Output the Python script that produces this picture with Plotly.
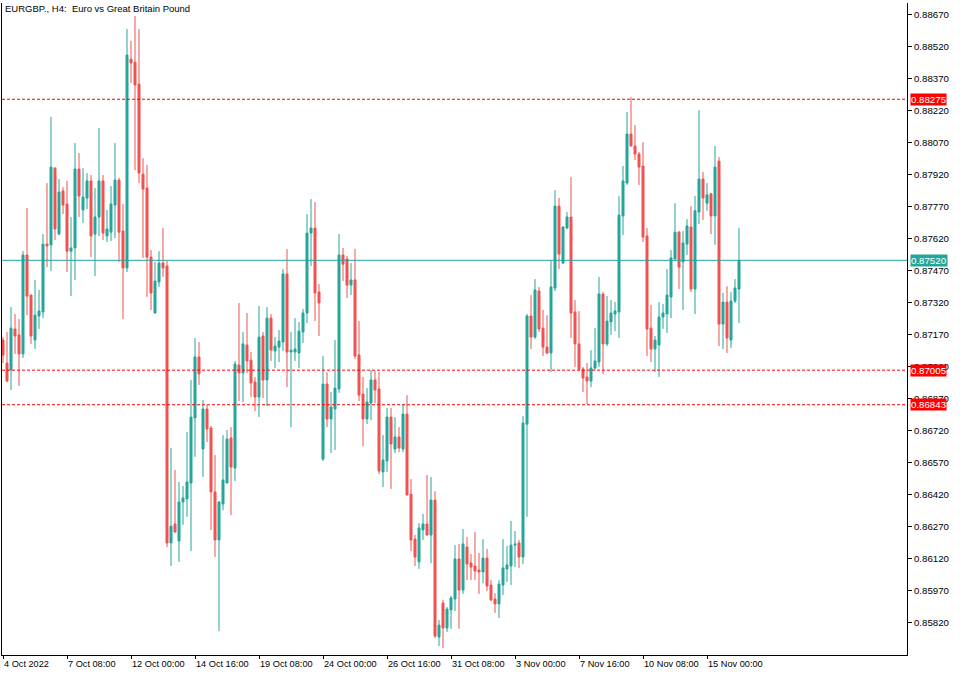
import plotly.graph_objects as go

opens = [0.87146,0.87038,0.87006,0.87198,0.87170,0.87081,0.87545,0.87357,0.87146,0.87259,
0.87278,0.87596,0.87592,0.87952,0.87643,0.87845,0.87784,0.87563,0.87578,0.87948,
0.87756,0.87812,0.87892,0.87643,0.87723,0.87892,0.87634,0.87652,0.87779,0.87896,
0.87657,0.87484,0.88463,0.88449,0.88346,0.87924,0.87859,0.87535,0.87273,0.87418,
0.87507,0.87493,0.86195,0.86284,0.86204,0.86387,0.86401,0.86476,0.86781,0.87067,
0.86635,0.86823,0.86734,0.86434,0.86209,0.86378,0.86476,0.86687,0.86546,0.87029,
0.86992,0.87123,0.87052,0.86949,0.86879,0.87165,0.86959,0.87249,0.87095,0.87113,
0.87137,0.87456,0.87090,0.87090,0.87085,0.87184,0.87273,0.87648,0.87671,0.87371,
0.86588,0.86940,0.86776,0.86823,0.86917,0.87545,0.87526,0.87404,0.87428,0.87076,
0.86893,0.86776,0.86851,0.86959,0.86917,0.86528,0.86579,0.86785,0.86635,0.86692,
0.86635,0.86799,0.86424,0.86213,0.86106,0.86256,0.86284,0.86232,0.86396,0.85754,
0.85913,0.85796,0.85881,0.85932,0.86120,0.85974,0.86176,0.86101,0.86087,0.86068,
0.86059,0.86124,0.85998,0.85932,0.85909,0.85998,0.86073,0.86087,0.86185,0.86195,
0.86129,0.86752,0.87259,0.87160,0.87376,0.87202,0.87113,0.87085,0.87390,0.87774,
0.87507,0.87671,0.87723,0.87278,0.87128,0.87010,0.86973,0.86954,0.87015,0.87043,
0.87362,0.87128,0.87231,0.87268,0.87278,0.87728,0.87882,0.88112,0.88056,0.88018,
0.87962,0.87634,0.87202,0.87104,0.87123,0.87254,0.87268,0.87348,0.87526,0.87652,
0.87512,0.87596,0.87676,0.87385,0.87746,0.87901,0.87788,0.87832,0.87728,0.87985,
0.87221,0.87324,0.87146,0.87329,0.87385]

highs = [0.87160,0.87184,0.87301,0.87268,0.87245,0.87563,0.87765,0.87360,0.87428,0.87381,
0.87643,0.87882,0.88192,0.87957,0.87901,0.87863,0.87892,0.87723,0.88070,0.88023,
0.87952,0.87929,0.87920,0.87859,0.88140,0.87920,0.87756,0.87868,0.88070,0.87906,
0.87784,0.88604,0.88548,0.88665,0.88604,0.87999,0.87967,0.87568,0.87512,0.87563,
0.87671,0.87517,0.86640,0.86537,0.86481,0.86462,0.86715,0.86959,0.87156,0.87137,
0.86865,0.86842,0.86743,0.86607,0.86390,0.86701,0.86724,0.86738,0.87048,0.87320,
0.87184,0.87273,0.87090,0.86973,0.87306,0.87184,0.87301,0.87268,0.87160,0.87193,
0.87479,0.87573,0.87184,0.87249,0.87231,0.87292,0.87737,0.87807,0.87793,0.87409,
0.87071,0.86996,0.86902,0.87146,0.87643,0.87578,0.87540,0.87507,0.87573,0.87235,
0.86973,0.86921,0.87006,0.87001,0.86996,0.86701,0.86828,0.86828,0.86785,0.86738,
0.86846,0.86888,0.86495,0.86232,0.86288,0.86331,0.86513,0.86504,0.86438,0.85834,
0.85928,0.85895,0.85946,0.86185,0.86190,0.86260,0.86223,0.86143,0.86246,0.86148,
0.86213,0.86167,0.86021,0.85960,0.86021,0.86213,0.86181,0.86298,0.86251,0.86209,
0.86790,0.87268,0.87357,0.87432,0.87395,0.87287,0.87263,0.87521,0.87849,0.87812,
0.87680,0.87746,0.87910,0.87334,0.87282,0.87020,0.87038,0.87099,0.87202,0.87442,
0.87371,0.87352,0.87334,0.87324,0.87821,0.87962,0.88215,0.88285,0.88154,0.88028,
0.88074,0.87671,0.87310,0.87165,0.87324,0.87315,0.87479,0.87568,0.87788,0.87657,
0.87657,0.87713,0.87774,0.87821,0.88224,0.87934,0.87882,0.87836,0.88056,0.88004,
0.87367,0.87399,0.87371,0.87432,0.87671]

lows = [0.87038,0.86949,0.86912,0.87081,0.86931,0.87062,0.87263,0.87128,0.87104,0.87198,
0.87249,0.87488,0.87470,0.87615,0.87638,0.87737,0.87465,0.87352,0.87428,0.87723,
0.87695,0.87760,0.87535,0.87446,0.87634,0.87615,0.87606,0.87610,0.87624,0.87512,
0.87245,0.87465,0.88351,0.87943,0.87882,0.87531,0.87348,0.87287,0.87270,0.87395,
0.87442,0.86176,0.86087,0.86244,0.86106,0.86279,0.86317,0.86157,0.86598,0.86935,
0.86504,0.86668,0.86256,0.86129,0.85782,0.86349,0.86474,0.86326,0.86485,0.86860,
0.86856,0.86992,0.86879,0.86813,0.86785,0.86874,0.86837,0.87048,0.87015,0.87043,
0.87095,0.86926,0.86738,0.87048,0.87015,0.87132,0.87226,0.87493,0.87235,0.87165,
0.86579,0.86738,0.86617,0.86631,0.86898,0.87423,0.87343,0.87357,0.87057,0.86860,
0.86649,0.86752,0.86771,0.86851,0.86518,0.86457,0.86528,0.86448,0.86617,0.86621,
0.86621,0.86418,0.86157,0.86087,0.86073,0.86209,0.86230,0.86101,0.85749,0.85712,
0.85702,0.85778,0.85792,0.85876,0.85792,0.85956,0.86021,0.86021,0.86021,0.85956,
0.86007,0.85970,0.85923,0.85867,0.85843,0.85951,0.86012,0.85998,0.86082,0.86078,
0.86096,0.86317,0.87104,0.87151,0.87184,0.87071,0.87081,0.86996,0.87376,0.87479,
0.87502,0.87667,0.87156,0.87020,0.87006,0.86902,0.86846,0.86926,0.87006,0.87020,
0.86987,0.87118,0.87170,0.87188,0.87156,0.87638,0.87873,0.88054,0.87990,0.87873,
0.87606,0.87071,0.87043,0.86996,0.86973,0.87198,0.87179,0.87249,0.87524,0.87385,
0.87287,0.87545,0.87371,0.87268,0.87690,0.87709,0.87752,0.87643,0.87592,0.87118,
0.87104,0.87085,0.87109,0.87320,0.87226]

closes = [0.87076,0.86954,0.87202,0.87165,0.87081,0.87545,0.87352,0.87165,0.87263,0.87282,
0.87596,0.87587,0.87957,0.87667,0.87840,0.87779,0.87563,0.87578,0.87948,0.87821,
0.87817,0.87892,0.87634,0.87723,0.87892,0.87648,0.87667,0.87784,0.87896,0.87652,
0.87484,0.88482,0.88445,0.88342,0.87929,0.87854,0.87535,0.87367,0.87423,0.87507,
0.87484,0.86195,0.86274,0.86246,0.86387,0.86406,0.86481,0.86785,0.87067,0.86987,
0.86823,0.86729,0.86434,0.86209,0.86387,0.86490,0.86682,0.86551,0.87034,0.86992,
0.87128,0.87048,0.86945,0.86879,0.87160,0.86959,0.87249,0.87099,0.87118,0.87142,
0.87456,0.87090,0.87099,0.87104,0.87188,0.87273,0.87648,0.87671,0.87367,0.87320,
0.86940,0.86776,0.86832,0.86921,0.87545,0.87502,0.87404,0.87428,0.87071,0.86888,
0.86776,0.86856,0.86959,0.86912,0.86532,0.86584,0.86785,0.86659,0.86692,0.86640,
0.86799,0.86420,0.86209,0.86129,0.86265,0.86284,0.86232,0.86396,0.85759,0.85810,
0.85796,0.85885,0.85937,0.86120,0.85974,0.86190,0.86096,0.86082,0.86063,0.86059,
0.86124,0.85993,0.85928,0.85909,0.86002,0.86078,0.86092,0.86185,0.86190,0.86129,
0.86757,0.87259,0.87160,0.87381,0.87198,0.87113,0.87085,0.87395,0.87774,0.87549,
0.87676,0.87723,0.87273,0.87128,0.87010,0.86968,0.86954,0.87015,0.87048,0.87362,
0.87128,0.87235,0.87273,0.87282,0.87732,0.87892,0.88112,0.88056,0.88018,0.87957,
0.87629,0.87198,0.87104,0.87146,0.87254,0.87273,0.87357,0.87531,0.87652,0.87488,
0.87601,0.87681,0.87385,0.87752,0.87901,0.87812,0.87827,0.87728,0.87957,0.87221,
0.87324,0.87156,0.87329,0.87390,0.87520]

bars = list(range(len(opens)))

date_tick_bars = [0, 16, 32, 48, 64, 80, 96, 112, 128, 144, 160, 176]
date_tick_labels = ["4 Oct 2022", "7 Oct 08:00", "12 Oct 00:00", "14 Oct 16:00",
                    "19 Oct 08:00", "24 Oct 00:00", "26 Oct 16:00", "31 Oct 08:00",
                    "3 Nov 00:00", "7 Nov 16:00", "10 Nov 08:00", "15 Nov 00:00"]

price_ticks = [0.85820, 0.85970, 0.86120, 0.86270, 0.86420, 0.86570, 0.86720, 0.86870,
               0.87020, 0.87170, 0.87320, 0.87470, 0.87620, 0.87770, 0.87920, 0.88070,
               0.88220, 0.88370, 0.88520, 0.88670]

level_lines = [0.88275, 0.87005, 0.86843]
bid_price = 0.87520

UP = "#26A69A"
DOWN = "#EF5350"
FONT = "Liberation Sans"

fig = go.Figure()
fig.add_trace(go.Candlestick(
    x=bars, open=opens, high=highs, low=lows, close=closes,
    increasing=dict(line=dict(color=UP, width=1), fillcolor=UP),
    decreasing=dict(line=dict(color=DOWN, width=1), fillcolor=DOWN),
    whiskerwidth=0, hoverinfo="skip", showlegend=False, opacity=1,
))

shapes = []
for lv in level_lines:
    shapes.append(dict(type="line", xref="paper", x0=0, x1=1, yref="y", y0=lv, y1=lv,
                       line=dict(color="#FF0000", width=1, dash="3px,2px"), layer="above"))
shapes.append(dict(type="line", xref="paper", x0=0, x1=1, yref="y", y0=bid_price, y1=bid_price,
                   line=dict(color=UP, width=1), layer="above"))

annotations = [dict(text="EURGBP., H4:  Euro vs Great Britain Pound", xref="paper", yref="paper",
                    x=0, y=1, xanchor="left", yanchor="top", xshift=1, yshift=2, showarrow=False,
                    font=dict(family=FONT, size=9.5, color="#000000"))]
for lv in level_lines:
    annotations.append(dict(text=f"{lv:.5f}", xref="paper", yref="y", x=1, y=lv, xanchor="left",
                            yanchor="middle", xshift=3, showarrow=False, bgcolor="#FF0000",
                            borderpad=0, font=dict(family=FONT, size=9.7, color="#FFFFFF")))
annotations.append(dict(text=f"{bid_price:.5f}", xref="paper", yref="y", x=1, y=bid_price,
                        xanchor="left", yanchor="middle", xshift=3, showarrow=False, bgcolor=UP,
                        borderpad=0, font=dict(family=FONT, size=9.7, color="#FFFFFF")))

fig.update_layout(
    width=960, height=675,
    margin=dict(l=2, r=53, t=3, b=20, pad=0, autoexpand=False),
    paper_bgcolor="#FFFFFF", plot_bgcolor="#FFFFFF",
    font=dict(family=FONT, size=10, color="#000000"),
    boxgap=0.5, boxgroupgap=0,
    shapes=shapes, annotations=annotations,
    xaxis=dict(range=[-0.25, 226.0], rangeslider=dict(visible=False), showgrid=False, zeroline=False,
               automargin=False, tickangle=0,
               tickmode="array", tickvals=date_tick_bars, ticktext=date_tick_labels,
               ticks="outside", ticklen=3, tickcolor="#000000", ticklabelposition="outside right",
               showline=True, linecolor="#000000", linewidth=1, mirror=False,
               tickfont=dict(family=FONT, size=9.2, color="#000000")),
    yaxis=dict(range=[0.856697, 0.887262], side="right", showgrid=False, zeroline=False,
               automargin=False,
               tickmode="array", tickvals=price_ticks, ticktext=[f"{p:.5f}" for p in price_ticks],
               ticks="outside", ticklen=4, tickcolor="#000000",
               showline=True, linecolor="#000000", linewidth=1, mirror=True,
               tickfont=dict(family=FONT, size=9.7, color="#000000")),
)

fig.write_html("out.html", config={"displayModeBar": False, "staticPlot": True},
               post_script="document.body.style.margin='0';document.body.style.overflow='hidden';")
